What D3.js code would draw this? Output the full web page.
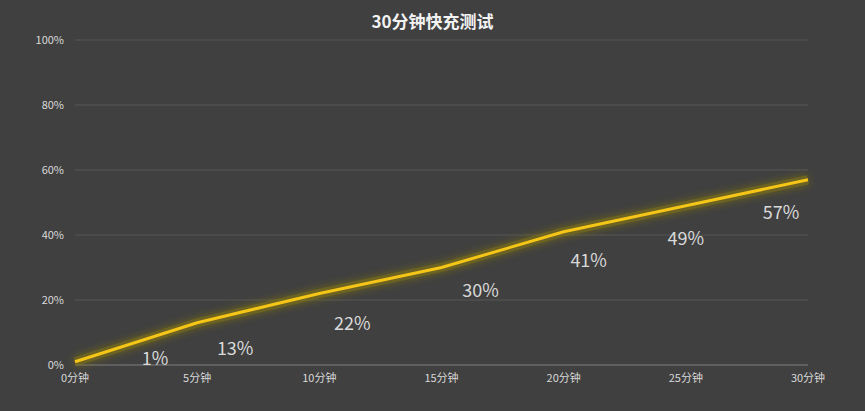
<!DOCTYPE html>
<html><head><meta charset="utf-8">
<script src="https://cdn.jsdelivr.net/npm/d3@7"></script>
<style>body{margin:0;background:#404040;}svg{display:block;font-family:"Noto Sans CJK SC","Noto Sans",sans-serif;}</style>
</head><body><div id="chart"></div>
<script>
const minutes = ["0分钟","5分钟","10分钟","15分钟","20分钟","25分钟","30分钟"];
const charge = [1, 13, 22, 30, 41, 49, 57];
const yTicks = [0, 20, 40, 60, 80, 100];

const width = 865, height = 411;
const svg = d3.select("#chart").append("svg").attr("width", width).attr("height", height);
svg.append("rect").attr("width", width).attr("height", height).attr("fill", "#404040");

const x = d3.scalePoint().domain(minutes).range([75, 808]);
const y = d3.scaleLinear().domain([0, 100]).range([365, 40]);

// gridlines
svg.selectAll("line.grid").data(yTicks).enter().append("line")
  .attr("x1", 75).attr("x2", 808)
  .attr("y1", d => y(d)).attr("y2", d => y(d))
  .attr("stroke", d => d === 0 ? "#7f7f7f" : "#575757").attr("stroke-width", 1);

svg.selectAll("text.yt").data(yTicks).enter().append("text")
  .attr("x", 64).attr("y", d => y(d)).attr("dy", "0.35em")
  .attr("text-anchor", "end").attr("font-size", 11).attr("fill", "#d9d9d9")
  .text(d => d + "%");

svg.selectAll("text.xt").data(minutes).enter().append("text")
  .attr("x", d => x(d)).attr("y", 382)
  .attr("text-anchor", "middle").attr("font-size", 11).attr("fill", "#d9d9d9")
  .text(d => d);

svg.append("text").attr("x", width / 2).attr("y", 28).attr("text-anchor", "middle")
  .attr("font-size", 17).attr("font-weight", "bold").attr("fill", "#f2f2f2")
  .text("30分钟快充测试");

const defs = svg.append("defs");
const f = defs.append("filter").attr("id", "glow").attr("x", "-10%").attr("y", "-50%").attr("width", "120%").attr("height", "200%");
f.append("feGaussianBlur").attr("stdDeviation", 4).attr("result", "b");
const m = f.append("feMerge");
m.append("feMergeNode").attr("in", "b");
m.append("feMergeNode").attr("in", "SourceGraphic");

const line = d3.line().x((d, i) => x(minutes[i])).y(d => y(d));
svg.append("path").datum(charge).attr("d", line)
  .attr("fill", "none").attr("stroke", "#8a7a10").attr("stroke-width", 9).attr("opacity", 0.6)
  .attr("filter", "url(#glow)");
svg.append("path").datum(charge).attr("d", line)
  .attr("fill", "none").attr("stroke", "#f5c518").attr("stroke-width", 3);

// label offsets (styling only)
const labelDx = [80, 38, 33, 39, 25, 0, -27];
const labelDy = [-3, 26, 30, 23, 29, 33, 33];
svg.selectAll("text.lbl").data(charge).enter().append("text")
  .attr("x", (d, i) => x(minutes[i]) + labelDx[i])
  .attr("y", (d, i) => y(d) + labelDy[i])
  .attr("dy", "0.35em").attr("text-anchor", "middle")
  .attr("font-size", 18).attr("fill", "#d9d9d9")
  .text(d => d + "%");
</script></body></html>
